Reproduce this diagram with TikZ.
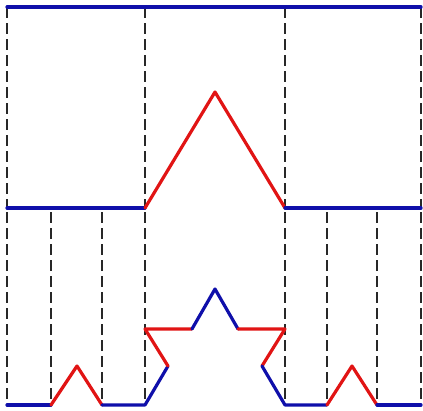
\documentclass[tikz,border=0pt]{standalone}
\definecolor{kblue}{RGB}{15,15,170}
\definecolor{kred}{RGB}{225,20,20}
\definecolor{kdash}{RGB}{40,40,40}
\begin{document}
\begin{tikzpicture}[x=1pt,y=-1pt,
  bl/.style={kblue,line width=3.2pt,line cap=round,line join=round},
  rd/.style={kred,line width=3.2pt,line cap=round,line join=round},
  guide/.style={kdash,line width=1.6pt,dash pattern=on 11pt off 5pt}]
\useasboundingbox (0,0) rectangle (423,410);
% guide lines
\foreach \x in {7,145,285,421} \draw[guide] (\x,7) -- (\x,208);
\foreach \x in {7,51,102,145,285,327,377,421} \draw[guide] (\x,212) -- (\x,405);
% top level
\coordinate (t1) at (7,7); \coordinate (t2) at (421,7);
\draw[bl] (t1) -- (t2);
% middle level
\coordinate (m1) at (7,208); \coordinate (m2) at (145,208);
\coordinate (m3) at (215,92); \coordinate (m4) at (285,208);
\coordinate (m5) at (421,208);
\draw[bl] (m1) -- (m2);
\draw[rd] (m2) -- (m3) -- (m4);
\draw[bl] (m4) -- (m5);
% bottom level
\coordinate (b1) at (7,405); \coordinate (b2) at (51,405);
\coordinate (b3) at (77,366); \coordinate (b4) at (102,405);
\coordinate (b5) at (145,405);
\coordinate (kb) at (168,366); \coordinate (kc) at (145,329);
\coordinate (kd) at (192,329); \coordinate (ke) at (215,289);
\coordinate (kf) at (238,329); \coordinate (kg) at (285,329);
\coordinate (kh) at (262,366); \coordinate (ki) at (285,405);
\coordinate (c2) at (327,405); \coordinate (c3) at (352,366);
\coordinate (c4) at (377,405); \coordinate (c5) at (421,405);
\draw[bl] (b1) -- (b2);
\draw[rd] (b2) -- (b3) -- (b4);
\draw[bl] (b4) -- (b5) -- (kb);
\draw[rd] (kb) -- (kc) -- (kd);
\draw[bl] (kd) -- (ke) -- (kf);
\draw[rd] (kf) -- (kg) -- (kh);
\draw[bl] (kh) -- (ki) -- (c2);
\draw[rd] (c2) -- (c3) -- (c4);
\draw[bl] (c4) -- (c5);
\end{tikzpicture}
\end{document}
